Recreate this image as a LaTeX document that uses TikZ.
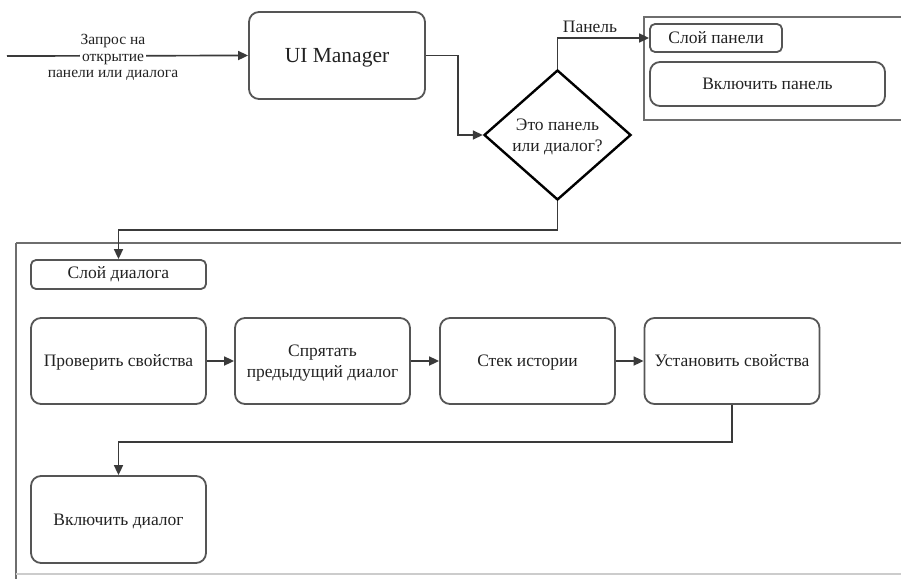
\documentclass[tikz,border=0pt]{standalone}
\usepackage{fontspec}
\setmainfont{Liberation Serif}
\usetikzlibrary{shapes.geometric,arrows.meta}
\definecolor{edgegray}{HTML}{555555}
\definecolor{linegray}{HTML}{3A3A3A}
\definecolor{textgray}{HTML}{222222}
\tikzset{
  x=1pt, y=-1pt,
  every node/.style={text=textgray, font=\fontsize{17.5}{21}\selectfont},
  stepbox/.style={draw=edgegray, line width=1.8pt, rounded corners=10pt,
    minimum width=175pt, minimum height=86pt, inner sep=2pt, align=center,
    text depth=0pt},
  tagbox/.style={draw=edgegray, line width=1.8pt, rounded corners=5pt,
    inner sep=2pt, align=center},
  groupframe/.style={draw=edgegray!85, line width=2.4pt},
  flow/.style={draw=linegray, line width=1.7pt, -{Triangle[length=10pt,width=9pt]}},
  decision/.style={diamond, draw=black, line width=2.4pt, inner sep=0pt,
    minimum width=147pt, minimum height=130pt, align=center, text depth=0pt},
  reqtext/.style={inner sep=0pt, anchor=base, font=\fontsize{15.5}{18}\selectfont},
}
\begin{document}
\begin{tikzpicture}
\useasboundingbox (0,0) rectangle (901,578);
\clip (0,0) rectangle (901,578);

% group frames
\draw[groupframe] (644,17) rectangle (920,120);
\draw[groupframe] (16,243) -- (920,243);
\draw[groupframe] (16,243) -- (16,590);
\draw[draw=edgegray!30, line width=1.5pt] (16,574) -- (920,574);

% request entry
\coordinate (start) at (7,56);
\node[stepbox, minimum width=176pt, minimum height=87pt,
  font=\fontsize{21.5}{25}\selectfont] (ui) at (337,55.5) {UI Manager};
\draw[flow] (start) -- (ui.west);
\node[reqtext, fill=white, inner xsep=2pt] (reqmid) at (113,61) {открытие};
\node[reqtext] (reqtop) at (113,45) {Запрос на};
\node[reqtext] (reqbot) at (113,77) {панели или диалога};

% decision
\node[decision] (dec) at (557.5,135) {Это панель\\или диалог?};
\draw[flow] (ui.east) -- ++(32,0) |- (dec.west);

% panel branch
\node[tagbox, minimum width=132pt, minimum height=28pt] (playr) at (716,38) {Слой панели};
\node[stepbox, minimum width=235pt, minimum height=44pt] (pon) at (767.5,84) {Включить панель};
\draw[flow] (dec.north) |- (playr.west);
\node[inner sep=0pt] (plbl) at (590,27) {Панель};

% dialog branch
\node[tagbox, minimum width=175pt, minimum height=29pt] (dlayr) at (118.5,274.5) {Слой диалога};
\draw[flow] (dec.south) -- ++(0,29) -| (dlayr.north);

\node[stepbox] (chk) at (118.5,361) {Проверить свойства};
\node[stepbox] (hide) at (322.5,361) {Спрятать\\предыдущий диалог};
\node[stepbox] (hist) at (527.5,361) {Стек истории};
\node[stepbox] (setp) at (732,361) {Установить свойства};
\node[stepbox, minimum height=87pt] (don) at (118.5,519.5) {Включить диалог};

\draw[flow] (chk.east) -- (hide.west);
\draw[flow] (hide.east) -- (hist.west);
\draw[flow] (hist.east) -- (setp.west);
\draw[flow] (setp.south) -- ++(0,37) -| (don.north);
\end{tikzpicture}
\end{document}
